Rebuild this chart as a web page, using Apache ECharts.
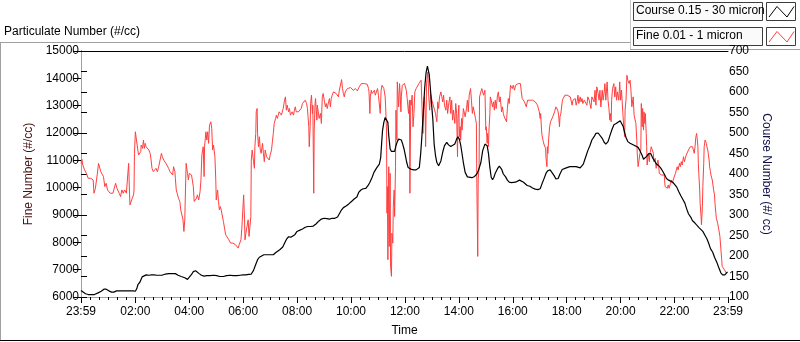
<!DOCTYPE html>
<html>
<head>
<meta charset="utf-8">
<script src="https://cdn.jsdelivr.net/npm/echarts@6/dist/echarts.min.js"></script>
<style>
  html, body { margin: 0; padding: 0; background: #fff; }
  #chart { width: 800px; height: 342px; }
</style>
</head>
<body>
<div id="chart"></div>
<script>
// x is minutes after the first 23:59 sample
const xTickMinutes = [0, 121, 241, 361, 481, 601, 721, 841, 961, 1081, 1201, 1321, 1440];
const xTickLabels = ["23:59", "02:00", "04:00", "06:00", "08:00", "10:00", "12:00",
  "14:00", "16:00", "18:00", "20:00", "22:00", "23:59"];

// Fine 0.01 - 1 micron, [minute, #/cc]
const fineData = [
  [0,10890],[2,11036],[4,10829],[8,10647],[12,10525],[16,10343],[18,10404],[22,10343],[24,10404],[27,10282],
  [29,9796],[32,9978],[34,10039],[36,10464],[39,10890],[42,10951],[44,10586],[47,10647],[50,10404],[53,10039],
  [56,10160],[59,9917],[62,9978],[65,9796],[68,9856],[71,9796],[75,9856],[77,10160],[80,9978],[82,9917],
  [85,9796],[88,9674],[91,9917],[94,9796],[97,9917],[101,9796],[105,9735],[106,10890],[108,9796],[109,9370],
  [112,9309],[114,9613],[117,9735],[118,9917],[119,11255],[121,12045],[123,11984],[125,11559],[128,11194],[131,11194],
  [133,11316],[134,11559],[137,11437],[139,11741],[141,11437],[143,11620],[145,11498],[148,11498],[151,11376],[154,11255],
  [156,11011],[158,10708],[161,10586],[164,10647],[167,10708],[170,10586],[173,10768],[176,11011],[179,11255],[181,11133],
  [184,11011],[186,11072],[189,10890],[192,10890],[195,10708],[198,10586],[201,10586],[204,10464],[206,10768],[209,10586],
  [210,10343],[212,9917],[214,9796],[217,9613],[220,9492],[222,9188],[225,9127],[227,8822],[229,8397],[231,8822],
  [232,9552],[234,10890],[237,10525],[239,10282],[241,10525],[243,10464],[246,10464],[248,10525],[250,10039],[252,9492],
  [255,9431],[257,9613],[259,9735],[262,9552],[265,9856],[267,10282],[269,11194],[272,11498],[274,10404],[275,11498],
  [278,12045],[280,11741],[282,12045],[284,11620],[286,12288],[289,12410],[291,12167],[293,11376],[295,11559],[298,11133],
  [300,10282],[301,9552],[304,9917],[306,9492],[308,9188],[310,9309],[312,9188],[315,9127],[317,8762],[320,8458],
  [322,8276],[324,8215],[326,8276],[329,8093],[331,8093],[333,7972],[335,7911],[338,7972],[341,7911],[344,7911],
  [347,7850],[350,7789],[352,7911],[354,7911],[356,8093],[358,8519],[361,9431],[362,9735],[364,8822],[365,8093],
  [367,8336],[369,8336],[372,8822],[374,8215],[376,8580],[378,8944],[379,11011],[381,11376],[384,10951],[386,10708],
  [387,11498],[389,11984],[390,12775],[392,12896],[393,11984],[395,11498],[397,11863],[399,11376],[401,11255],[404,11620],
  [406,11255],[408,10951],[410,11376],[413,11133],[415,11133],[417,11194],[419,11011],[421,11194],[424,11376],[426,11680],
  [428,11984],[430,12349],[433,12532],[435,12653],[437,12532],[439,12653],[441,12775],[444,12836],[446,12653],[448,12714],
  [450,12896],[453,13200],[455,13322],[457,12836],[459,13018],[462,12775],[464,12896],[466,12653],[468,12714],[470,12775],
  [473,12653],[475,12836],[477,12957],[479,12775],[482,12836],[484,12775],[486,12836],[488,12775],[490,12896],[493,13079],
  [495,13079],[497,13140],[499,13200],[502,13079],[504,12896],[505,12653],[507,12228],[508,11498],[510,12228],[511,13079],
  [513,13383],[515,12714],[516,13018],[518,9796],[519,12106],[521,13079],[522,13261],[525,12471],[526,13018],[528,12957],
  [530,12532],[533,12714],[535,12349],[537,13322],[539,13444],[542,13140],[544,12957],[546,13079],[548,12896],[551,13140],
  [553,13261],[555,12957],[557,13261],[559,13383],[562,13504],[564,13565],[566,13504],[568,13444],[571,13444],[573,13322],
  [575,13565],[577,13626],[580,13954],[582,13626],[584,13444],[586,13322],[588,13504],[591,13565],[593,13626],[595,13687],
  [597,13626],[600,13662],[602,13590],[604,13626],[606,13565],[608,13590],[611,13626],[613,13565],[615,13541],[617,13590],
  [620,13711],[622,13711],[624,13808],[626,13869],[628,13833],[631,13808],[633,13845],[635,13808],[637,13784],[640,13626],
  [641,13504],[643,12714],[644,13322],[646,13565],[648,13444],[651,13504],[653,13565],[655,13383],[657,13444],[660,13626],
  [662,13383],[664,13322],[666,12714],[668,13565],[670,13748],[672,13687],[674,13626],[677,13322],[678,12957],[680,12106],
  [681,9066],[682,10039],[683,7364],[685,10768],[686,7850],[688,10525],[689,7120],[691,6756],[692,8336],[694,7972],
  [695,9309],[697,9917],[698,8944],[700,10768],[701,12836],[703,11741],[704,13869],[706,13930],[707,12957],[709,13808],
  [710,13565],[712,12775],[713,13322],[715,13748],[717,13687],[720,13808],[722,13748],[724,13565],[726,13261],[728,13322],
  [729,12714],[731,13200],[732,9796],[734,13200],[735,13018],[737,13383],[739,12228],[741,12714],[743,13504],[746,13626],
  [748,13565],[750,13687],[752,13808],[755,13869],[757,13930],[759,13991],[761,11984],[763,12957],[764,13322],[766,12714],
  [767,11498],[769,13808],[772,14234],[774,13322],[776,12836],[778,13444],[781,13200],[783,13261],[785,13200],[787,12836],
  [789,12714],[792,12410],[794,13140],[796,12896],[798,13322],[801,13504],[803,13322],[805,13140],[807,13383],[809,13018],
  [812,12836],[814,13200],[816,12714],[818,13018],[821,13322],[823,12714],[825,13200],[827,12471],[829,12836],[832,12349],
  [834,13079],[836,12714],[838,11133],[839,12532],[841,13018],[842,11863],[844,12228],[845,11741],[847,12532],[848,12106],
  [850,12592],[851,12896],[853,12836],[855,12592],[858,12896],[860,13200],[862,12775],[864,13383],[867,13626],[869,13200],
  [871,12714],[873,12957],[876,13018],[878,12532],[880,12349],[881,10160],[883,7485],[884,10282],[886,10768],[887,13322],
  [890,13504],[892,13626],[894,13565],[896,13383],[899,13565],[901,12106],[902,12228],[904,11620],[905,11984],[907,11498],
  [908,12106],[910,12714],[911,13322],[913,13200],[916,12957],[918,13140],[920,12836],[922,13200],[924,12896],[927,13383],
  [929,13504],[931,13140],[933,13322],[936,12775],[938,12957],[940,12714],[942,12592],[945,12653],[947,12410],[949,12896],
  [951,13261],[953,13079],[956,13748],[958,13808],[960,13626],[962,13748],[965,13565],[967,13748],[969,13687],[971,13808],
  [973,13808],[976,13869],[978,13808],[980,13504],[982,13261],[985,13200],[987,13140],[989,13079],[991,12957],[994,13200],
  [996,13261],[998,13140],[1000,13200],[1002,13140],[1005,13200],[1007,13140],[1009,13200],[1011,13140],[1014,13079],[1016,13018],
  [1018,13018],[1020,12775],[1022,12532],[1023,12714],[1025,12106],[1026,11924],[1028,11863],[1029,11680],[1031,11559],[1034,11437],
  [1035,11072],[1037,10768],[1038,11498],[1039,11255],[1041,11802],[1043,12228],[1045,12410],[1048,12471],[1050,12592],[1052,12653],
  [1054,12775],[1057,12957],[1059,13018],[1061,12836],[1063,12653],[1065,12228],[1066,12592],[1068,12714],[1071,13140],[1073,13261],
  [1075,13322],[1077,13383],[1080,13444],[1082,13383],[1084,13322],[1086,13383],[1089,13322],[1091,13261],[1093,13018],[1095,13200],
  [1097,13140],[1100,13261],[1102,13018],[1104,13140],[1106,13383],[1108,13079],[1111,13322],[1113,13140],[1115,13261],[1117,13079],
  [1120,13200],[1122,13140],[1124,13261],[1126,13018],[1128,13322],[1131,13200],[1133,13140],[1135,12896],[1137,13322],[1140,13383],
  [1142,13140],[1144,13565],[1146,13018],[1148,13687],[1151,13444],[1153,13200],[1155,13565],[1157,12957],[1160,13565],[1162,13200],
  [1164,13444],[1166,13808],[1168,13200],[1171,13869],[1173,13200],[1175,12896],[1177,12471],[1178,12714],[1180,12410],[1181,13200],
  [1183,13626],[1186,13808],[1188,13322],[1190,13687],[1192,13200],[1194,13504],[1197,13200],[1199,13869],[1201,13200],[1203,13565],
  [1206,12714],[1208,12228],[1210,11863],[1211,12836],[1213,13200],[1215,14112],[1217,13930],[1220,13808],[1222,13930],[1224,13565],
  [1226,12957],[1229,13322],[1231,12653],[1233,12714],[1235,12349],[1237,11741],[1238,11255],[1240,10768],[1241,10829],[1243,10768],
  [1244,11255],[1246,11376],[1247,13079],[1249,12228],[1250,12896],[1252,12106],[1253,12775],[1255,12349],[1256,12714],[1258,11984],
  [1259,11498],[1260,10829],[1262,11133],[1263,11255],[1265,10951],[1266,11255],[1268,11376],[1269,11498],[1271,11559],[1272,11498],
  [1274,11255],[1275,10951],[1277,11011],[1278,11072],[1280,10708],[1281,10768],[1283,10890],[1284,11011],[1286,10768],[1287,10525],
  [1289,10586],[1292,10464],[1294,10525],[1296,10404],[1298,10464],[1300,10039],[1303,10100],[1305,9978],[1307,10100],[1309,9978],
  [1312,10160],[1314,10282],[1316,10160],[1318,10282],[1321,10343],[1323,10525],[1325,10464],[1327,10768],[1329,10647],[1332,10890],
  [1334,10768],[1336,10951],[1338,10829],[1341,11133],[1343,10951],[1345,11072],[1347,11194],[1350,11255],[1352,11376],[1354,11316],
  [1356,11498],[1358,11437],[1361,11498],[1363,11376],[1365,11255],[1367,11559],[1368,11802],[1370,11984],[1371,11863],[1373,11498],
  [1374,10890],[1375,10525],[1377,9917],[1378,9431],[1380,8944],[1381,8641],[1383,9309],[1384,10039],[1386,10890],[1387,11498],
  [1389,11741],[1390,11680],[1392,11620],[1393,11498],[1395,11376],[1396,11255],[1398,11011],[1399,10768],[1401,10586],[1402,10464],
  [1404,10525],[1405,10282],[1407,10221],[1408,9917],[1410,9735],[1411,9431],[1413,9066],[1414,8884],[1416,8822],[1417,8701],
  [1419,8519],[1420,8458],[1422,8215],[1423,8154],[1424,7789],[1426,7364],[1427,7120],[1429,7060],[1430,7120],[1432,6999],
  [1433,7060],[1435,6938],[1436,6877],[1438,6902]
];

// Course 0.15 - 30 micron, [minute, #/cc]
const courseData = [
  [0,116],[4,114],[10,108],[16,106],[23,106],[30,106],[38,110],[45,114],[51,119],[56,119],
  [62,115],[68,112],[73,112],[79,115],[86,115],[94,115],[101,115],[108,115],[116,115],[121,114],
  [124,120],[127,131],[131,136],[136,149],[140,153],[145,154],[151,153],[157,154],[163,154],[168,153],
  [174,153],[180,153],[188,156],[195,157],[203,157],[210,157],[216,153],[223,150],[231,147],[237,143],
  [241,146],[246,155],[250,162],[255,164],[259,162],[263,157],[268,153],[274,151],[280,152],[287,152],
  [295,153],[302,152],[309,150],[317,150],[324,152],[332,153],[339,152],[347,152],[354,153],[361,154],
  [367,154],[373,155],[379,156],[384,165],[388,177],[393,191],[397,197],[401,201],[407,203],[415,203],
  [422,203],[428,203],[433,208],[437,212],[443,216],[449,222],[453,231],[458,242],[462,247],[467,246],
  [471,244],[476,252],[480,259],[485,262],[489,263],[493,266],[499,270],[505,272],[511,272],[517,273],
  [523,278],[529,285],[535,290],[541,292],[547,291],[553,290],[559,292],[565,292],[571,295],[575,303],
  [579,311],[584,318],[590,322],[596,327],[602,333],[608,339],[614,344],[618,355],[623,361],[628,364],
  [634,365],[639,372],[643,380],[648,392],[652,404],[658,415],[664,424],[667,440],[669,473],[671,505],
  [674,526],[677,538],[680,542],[683,526],[685,493],[688,461],[691,455],[695,455],[698,455],[701,469],
  [704,479],[707,485],[710,487],[713,483],[716,473],[719,461],[722,445],[725,428],[728,416],[731,412],
  [734,412],[740,410],[746,410],[750,408],[753,416],[756,449],[759,497],[762,554],[765,611],[768,647],
  [771,663],[773,666],[775,643],[778,603],[780,574],[783,534],[786,473],[789,445],[792,428],[796,420],
  [801,432],[805,453],[809,469],[814,477],[818,471],[823,467],[827,468],[832,473],[836,485],[839,491],
  [842,485],[845,471],[848,450],[851,428],[855,404],[860,393],[864,391],[870,391],[876,394],[881,400],
  [885,410],[890,428],[894,457],[899,473],[902,477],[904,469],[907,449],[910,416],[913,392],[916,386],
  [919,392],[922,402],[927,413],[931,419],[936,412],[940,400],[945,393],[949,385],[953,380],[958,379],
  [962,380],[967,380],[971,384],[976,385],[980,381],[985,380],[989,376],[993,372],[999,370],[1005,366],
  [1011,363],[1017,362],[1022,364],[1026,376],[1031,390],[1035,402],[1039,408],[1044,410],[1048,404],[1053,396],
  [1057,388],[1062,389],[1066,400],[1071,411],[1075,415],[1080,415],[1084,416],[1088,418],[1093,418],[1097,420],
  [1102,418],[1106,416],[1111,415],[1115,416],[1118,424],[1121,434],[1124,444],[1128,457],[1133,470],[1137,483],
  [1142,491],[1146,499],[1151,500],[1155,497],[1160,487],[1164,478],[1168,473],[1173,479],[1177,493],[1182,509],
  [1186,520],[1191,523],[1195,527],[1200,530],[1204,526],[1207,515],[1210,501],[1213,489],[1217,479],[1222,475],
  [1226,471],[1231,470],[1235,469],[1240,465],[1244,457],[1249,445],[1252,436],[1255,438],[1259,443],[1263,449],
  [1268,450],[1272,440],[1277,431],[1281,424],[1286,420],[1290,415],[1295,406],[1299,398],[1303,389],[1308,385],
  [1312,383],[1317,380],[1321,376],[1326,368],[1330,358],[1335,347],[1339,339],[1344,329],[1348,315],[1352,303],
  [1357,295],[1361,286],[1366,281],[1370,276],[1375,270],[1379,266],[1384,260],[1388,252],[1393,242],[1397,231],
  [1401,218],[1406,209],[1410,197],[1415,185],[1419,173],[1424,159],[1428,154],[1433,154],[1437,159],[1439,161]
];

// minor ticks between the labelled ones
const xMinorTicks = [];
for (let i = 0; i < xTickMinutes.length - 1; i++) {
  const a = xTickMinutes[i], b = xTickMinutes[i + 1];
  for (let k = 1; k < 6; k++) xMinorTicks.push(a + (b - a) * k / 6);
}

const FONT = "'Liberation Sans', Arial, sans-serif";
const NARROW = "'Liberation Sans Narrow', 'Liberation Sans', Arial, sans-serif";

const chart = echarts.init(document.getElementById("chart"), null, { renderer: "canvas" });

chart.setOption({
  animation: false,
  backgroundColor: "#ffffff",
  grid: { left: 81, right: 72, top: 51, bottom: 43, containLabel: false },
  xAxis: [
    {
      type: "value", min: 0, max: 1440, position: "bottom",
      name: "Time", nameLocation: "middle", nameGap: 28,
      nameTextStyle: { color: "#000", fontFamily: FONT, fontSize: 12 },
      axisLine: { show: true, lineStyle: { color: "#a0a0a0", width: 1 } },
      axisTick: { show: true, customValues: xTickMinutes, length: 6, lineStyle: { color: "#000" } },
      axisLabel: {
        customValues: xTickMinutes, margin: 9, color: "#000", fontFamily: NARROW, fontSize: 12,
        formatter: (v) => xTickLabels[xTickMinutes.indexOf(Math.round(v))] || "",
      },
      splitLine: { show: false },
    },
    {
      type: "value", min: 0, max: 1440, position: "bottom",
      axisLine: { show: false },
      axisTick: { show: true, customValues: xMinorTicks, length: 3, lineStyle: { color: "#000" } },
      axisLabel: { show: false },
      splitLine: { show: false },
    },
    {
      type: "value", min: 0, max: 1440, position: "top",
      axisLine: { show: true, lineStyle: { color: "#000", width: 1 } },
      axisTick: { show: false }, axisLabel: { show: false }, splitLine: { show: false },
    },
  ],
  yAxis: [
    {
      type: "value", min: 6000, max: 15000, interval: 1000, position: "left",
      name: "Fine Number (#/cc)", nameLocation: "middle", nameGap: 46, nameRotate: 90,
      nameTextStyle: { color: "#4a0f0f", fontFamily: FONT, fontSize: 12 },
      axisLine: { show: true, lineStyle: { color: "#000", width: 1 } },
      axisTick: { show: true, length: 8, lineStyle: { color: "#000" } },
      axisLabel: { margin: 2, color: "#000", fontFamily: NARROW, fontSize: 12, formatter: (v) => String(v) },
      splitLine: { show: false },
    },
    {
      type: "value", min: 100, max: 700, interval: 50, position: "right",
      name: "Course Number (#/ cc)", nameLocation: "middle", nameGap: 27, nameRotate: -90,
      nameTextStyle: { color: "#0f0f4a", fontFamily: FONT, fontSize: 12 },
      axisLine: { show: true, lineStyle: { color: "#a0a0a0", width: 1 } },
      axisTick: { show: true, length: 6, lineStyle: { color: "#000" } },
      axisLabel: { margin: 1, color: "#000", fontFamily: NARROW, fontSize: 12, formatter: (v) => String(v) },
      splitLine: { show: false },
    },
  ],
  series: [
    {
      name: "Fine 0.01 - 1 micron", type: "line", xAxisIndex: 0, yAxisIndex: 0,
      data: fineData, symbol: "none", color: "#ff3f3f",
      lineStyle: { width: 1, color: "#ff3f3f" }, z: 2,
    },
    {
      name: "Course 0.15 - 30 micron", type: "line", xAxisIndex: 0, yAxisIndex: 1,
      data: courseData, symbol: "none", color: "#000",
      lineStyle: { width: 1.2, color: "#000" }, z: 3,
    },
  ],
  graphic: [
    { type: "text", left: 4, top: 26, style: { text: "Particulate Number (#/cc)", fill: "#000", font: "12px " + FONT } },
    // panel frame
    { type: "line", shape: { x1: 0, y1: 42.5, x2: 630, y2: 42.5 }, style: { stroke: "#a0a0a0", lineWidth: 1 } },
    { type: "line", shape: { x1: 0.5, y1: 42, x2: 0.5, y2: 341 }, style: { stroke: "#a0a0a0", lineWidth: 1 } },
    { type: "line", shape: { x1: 0, y1: 340.5, x2: 800, y2: 340.5 }, style: { stroke: "#000", lineWidth: 1 } },
    { type: "line", shape: { x1: 630.5, y1: 0, x2: 630.5, y2: 49 }, style: { stroke: "#c8c8c8", lineWidth: 1 } },
    { type: "line", shape: { x1: 630, y1: 49.5, x2: 800, y2: 49.5 }, style: { stroke: "#a0a0a0", lineWidth: 1 } },
    // legend
    { type: "rect", shape: { x: 633.5, y: 2.5, width: 129, height: 18 }, style: { fill: "#fafafa", stroke: "#3c3c3c", lineWidth: 1 } },
    { type: "text", left: 636, top: 5, style: { text: "Course 0.15 - 30 micron", fill: "#000", font: "12px " + FONT } },
    { type: "rect", shape: { x: 766.5, y: 2.5, width: 29, height: 18 }, style: { fill: "#fff", stroke: "#3c3c3c", lineWidth: 1 } },
    { type: "polyline", shape: { points: [[769, 17], [777, 6.5], [787, 17], [794, 6.5]] }, style: { stroke: "#000", lineWidth: 1, fill: null } },
    { type: "rect", shape: { x: 633.5, y: 27.5, width: 129, height: 18 }, style: { fill: "#fafafa", stroke: "#3c3c3c", lineWidth: 1 } },
    { type: "text", left: 636, top: 30, style: { text: "Fine 0.01 - 1 micron", fill: "#000", font: "12px " + FONT } },
    { type: "rect", shape: { x: 766.5, y: 27.5, width: 29, height: 18 }, style: { fill: "#fff", stroke: "#3c3c3c", lineWidth: 1 } },
    { type: "polyline", shape: { points: [[769, 42], [777, 31.5], [787, 42], [794, 31.5]] }, style: { stroke: "#ff3f3f", lineWidth: 1, fill: null } },
  ],
});
</script>
</body>
</html>
